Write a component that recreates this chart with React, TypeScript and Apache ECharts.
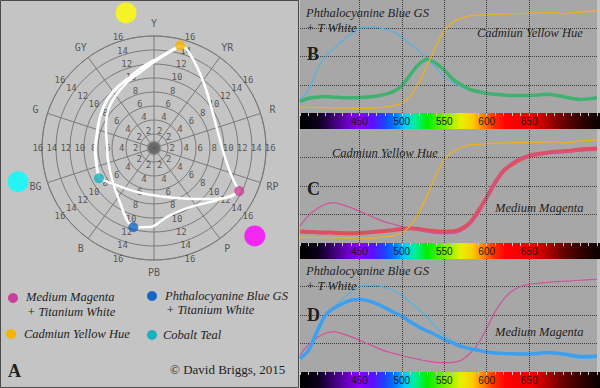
import { useEffect, useRef } from "react";
import * as echarts from "echarts";

// ---------- Spectral panels (B, C, D) ----------
const WAVELENGTHS = [380, 390, 400, 410, 420, 430, 440, 450, 460, 470, 480, 490, 500, 510, 520, 530, 540, 550,
  560, 570, 580, 590, 600, 610, 620, 630, 640, 650, 660, 670, 680, 690, 700, 710, 720, 730];
const PHTHALO_BLUE_TW = [12, 20, 38, 50, 57, 64, 70, 75, 76, 76, 74, 72, 67, 61, 55, 48, 40, 32, 27, 23, 20, 18,
  17, 16, 16, 16, 16, 16, 16, 17, 16, 15, 13, 12, 12, 13];
const CADMIUM_YELLOW = [5, 5, 4.8, 4.7, 4.6, 4.5, 4.3, 4.2, 4.2, 4.5, 5.5, 6.5, 9, 15, 27, 42, 59, 73, 80, 84, 86,
  86.5, 87, 87.5, 87.7, 88, 88, 88.2, 88.5, 88.7, 89, 87.8, 88.5, 89.5, 90, 90.6];
const MEDIUM_MAGENTA = [15, 24, 30, 34, 35.4, 33.5, 31, 28, 24.5, 21.5, 18.5, 16.5, 14.5, 12.5, 11, 9.5, 8.4, 8.2,
  8.4, 10.3, 16, 25, 38, 53, 64, 71, 75, 77, 77.8, 78.5, 79.2, 79.6, 80, 80.5, 81, 81.3];
const MIX_BLUE_YELLOW = [10, 13, 14, 14.5, 14, 13.6, 13.6, 13.8, 14.2, 15, 16.5, 19, 24, 34, 43, 47.5, 44, 38, 30,
  25, 21, 19, 17.5, 16.5, 16, 15.5, 15.5, 15.5, 16, 16.5, 16, 14.5, 13, 12, 12.5, 13.5];
const MIX_MAGENTA_YELLOW = [10, 9.7, 9.4, 9.2, 9, 8.7, 8.5, 8.8, 9.2, 9.8, 10.6, 11.3, 12.2, 12.9, 12.2, 11, 10.4,
  10, 10.2, 12.5, 17.5, 28, 40, 53, 63.5, 69, 73.5, 76.5, 78, 79, 80, 80.5, 81, 82, 82.5, 83];
const MIX_MAGENTA_BLUE = [12, 19, 35, 50, 56, 60, 63, 63.7, 62.5, 60, 56.5, 52.5, 49, 44, 39.5, 36, 32.5, 28.5,
  25.5, 22.5, 20.5, 19, 17.5, 16.7, 16.2, 16, 15.8, 15.8, 16.3, 17, 16.7, 15.8, 14.7, 13.5, 13.5, 14.3];
const SPECTRUM_LABELS = [450, 500, 550, 600, 650];
const SPECTRUM_NM = [380, 400, 415, 435, 450, 465, 480, 492, 503, 515, 528, 548, 568, 582, 594, 606, 620, 650,
  668, 690, 712, 730];
const SPECTRUM_COLORS = ["#000000", "#0a0014", "#300060", "#6a00c0", "#8a00ff", "#5a10ff", "#1848ff", "#0080ff",
  "#00d0ff", "#00f090", "#00ee00", "#70f000", "#e8f000", "#ffc800", "#ff8000", "#ff3000", "#ff0000", "#f00000",
  "#b00000", "#600000", "#2a0000", "#0a0000"];

// ---------- Polar hue/chroma diagram (A) : [chroma, hue angle clockwise from Y] ----------
const HUE_NAMES = ["Y", "YR", "R", "RP", "P", "PB", "B", "BG", "G", "GY"];
const HUE_ANGLES = [0, 36, 72, 108, 144, 180, 216, 252, 288, 324];
const RING_VALUES = [2, 4, 6, 8, 10, 12, 14, 16];
const RING_LABEL_ANGLES = [18, 54, 90, 126, 162, 198, 234, 270, 306, 342];

const PIGMENT_YELLOW = [15.1, 14.3];
const PIGMENT_MAGENTA = [13.65, 116.8];
const PIGMENT_BLUE = [11.7, 194.6];
const PIGMENT_TEAL = [8.97, 241.2];
const REF_YELLOW = [19.7, 348.3];
const REF_CYAN = [20.0, 256.1];
const REF_MAGENTA = [19.1, 131.1];

const CURVE_YELLOW_MAGENTA = [[15.1, 14.3], [14.8, 18.6], [13.1, 28.0], [11.4, 39.9], [9.9, 56.8], [9.4, 76.8],
  [10.2, 97.2], [11.9, 110.4], [13.65, 116.8]];
const CURVE_YELLOW_TEAL = [[15.1, 14.3], [13.0, 3.8], [11.7, 352.3], [10.7, 341.3], [10.1, 328.3], [9.6, 315.6],
  [8.9, 299.9], [8.4, 284.7], [8.4, 268.1], [8.6, 251.6], [8.97, 241.2]];
const CURVE_YELLOW_BLUE = [[15.1, 14.3], [12.6, 2.0], [11.0, 349.6], [10.1, 337.4], [9.2, 322.6], [8.5, 309.6],
  [7.5, 293.6], [6.7, 271.2], [6.8, 255.4], [7.7, 229.5], [9.2, 211.7], [11.0, 200.6], [11.7, 194.6]];
const CURVE_TEAL_MAGENTA = [[8.97, 241.2], [8.0, 231.5], [6.7, 197.3], [7.6, 159.2], [10.5, 133.9],
  [12.9, 122.8], [13.65, 116.8]];
const CURVE_BLUE_MAGENTA = [[11.7, 194.6], [11.3, 182.9], [10.0, 169.3], [9.8, 151.2], [11.7, 129.5],
  [13.1, 120.8], [13.65, 116.8]];

const PLOT_BG = "#a7a7a7";
const PANEL_BG = "#c4c4c4";
const SERIF_I = 'italic 12.5px "Liberation Serif", serif';
const SERIF_B = 'bold 18px "Liberation Serif", serif';
const POLAR_CENTER = [154, 148];

function specSeries(grid: number, values: number[], color: string, width: number, extra: any = {}) {
  return {
    type: "line",
    xAxisIndex: grid,
    yAxisIndex: grid,
    data: WAVELENGTHS.map((w, i) => [w, values[i]]),
    smooth: 0.3,
    symbol: "none",
    silent: true,
    lineStyle: { color, width },
    ...extra,
  };
}

function gridMarks() {
  return {
    silent: true,
    symbol: ["none", "none"],
    label: { show: false },
    lineStyle: { color: "#3a3a3a", type: "dotted", width: 1 },
    data: SPECTRUM_LABELS.map((v) => ({ xAxis: v })),
  };
}

function polarCurve(data: number[][], width: number) {
  return {
    type: "line",
    coordinateSystem: "polar",
    polarIndex: 1,
    data,
    smooth: 0.35,
    symbol: "none",
    silent: true,
    lineStyle: { color: "#ffffff", width },
    z: 4,
  };
}

function txt(text: string, x: number, y: number, font: string, fill = "#1e1e1e") {
  return { type: "text", x, y, z: 20, silent: true, style: { text, font, fill, verticalAlign: "middle", align: "left" } };
}

export default function App() {
  const ref = useRef<HTMLDivElement>(null);

  useEffect(() => {
    const chart = echarts.init(ref.current!, undefined, { renderer: "svg" });
    const grids = [
      { top: 0, height: 113 },
      { top: 129, height: 114 },
      { top: 258, height: 114 },
    ];
    const stops = SPECTRUM_NM.map((nm, i) => ({ offset: (nm - 380) / 350, color: SPECTRUM_COLORS[i] }));
    const hidden = { show: false };

    const option: any = {
      animation: false,
      backgroundColor: PANEL_BG,
      grid: grids.map((g) => ({
        left: 300, width: 300, top: g.top, height: g.height,
        show: true, backgroundColor: PLOT_BG, borderWidth: 0,
      })),
      xAxis: grids.map((_, i) => ({
        type: "value", gridIndex: i, min: 380, max: 730, interval: 10, z: 10,
        axisLine: { show: false },
        axisTick: { show: true, length: 3, lineStyle: { color: "#c8c8c8", width: 1 } },
        axisLabel: {
          formatter: (v: number) => (SPECTRUM_LABELS.includes(v) ? String(v) : ""),
          margin: 3, color: "#1a1a1a", fontSize: 10, fontFamily: '"Liberation Sans", sans-serif',
        },
        splitLine: { show: false },
      })),
      yAxis: grids.map((_, i) => ({
        type: "value", gridIndex: i, min: 0, max: 100, interval: 25,
        axisLine: { show: false }, axisTick: { show: false }, axisLabel: { show: false },
        splitLine: { show: true, showMinLine: false, showMaxLine: false, lineStyle: { color: "#3a3a3a", type: "dotted", width: 1 } },
      })),
      // polar 0 draws the ring/spoke grid (chroma 0-16); polar 1 (same scale, larger extent) holds the marks
      polar: [
        { center: POLAR_CENTER, radius: 112 },
        { center: POLAR_CENTER, radius: 147 },
      ],
      radiusAxis: [
        {
          polarIndex: 0, type: "value", min: 0, max: 16, interval: 2,
          axisLine: hidden, axisTick: hidden, axisLabel: hidden,
          splitLine: { show: true, lineStyle: { color: "#7a7a7a", width: 1 } },
        },
        {
          polarIndex: 1, type: "value", min: 0, max: 21, interval: 1,
          axisLine: hidden, axisTick: hidden, axisLabel: hidden, splitLine: hidden,
        },
      ],
      angleAxis: [
        {
          polarIndex: 0, type: "value", min: 0, max: 360, interval: 36, startAngle: 90, clockwise: true,
          axisLine: { show: true, lineStyle: { color: "#7a7a7a", width: 1 } },
          axisTick: hidden, axisLabel: hidden,
          splitLine: { show: true, lineStyle: { color: "#7a7a7a", width: 1 } },
        },
        {
          polarIndex: 1, type: "value", min: 0, max: 360, interval: 36, startAngle: 90, clockwise: true,
          axisLine: hidden, axisTick: hidden, axisLabel: hidden, splitLine: hidden,
        },
      ],
      series: [
        // Panel B
        specSeries(0, PHTHALO_BLUE_TW, "#52b2e4", 1.2, { markLine: gridMarks() }),
        specSeries(0, MIX_BLUE_YELLOW, "#3fb170", 3.5),
        specSeries(0, CADMIUM_YELLOW, "#f0b01e", 1.3),
        // Panel C
        specSeries(1, MIX_MAGENTA_YELLOW, "#e0505c", 4, { markLine: gridMarks() }),
        specSeries(1, MEDIUM_MAGENTA, "#d0529c", 1.2),
        specSeries(1, CADMIUM_YELLOW, "#f0b01e", 1.3),
        // Panel D
        specSeries(2, PHTHALO_BLUE_TW, "#52b2e4", 1.2, { markLine: gridMarks() }),
        specSeries(2, MEDIUM_MAGENTA, "#d0529c", 1.2),
        specSeries(2, MIX_MAGENTA_BLUE, "#3c9ff0", 3.5),
        // Polar: ring numbers
        {
          type: "scatter", coordinateSystem: "polar", polarIndex: 1, symbolSize: 0, silent: true, z: 3,
          data: RING_LABEL_ANGLES.flatMap((a) => RING_VALUES.map((r) => ({ name: String(r), value: [r + 0.6, a] }))),
          label: { show: true, position: "inside", formatter: "{b}", color: "#383838", fontSize: 9, fontFamily: '"DejaVu Sans Mono", monospace' },
        },
        // Polar: hue names
        {
          type: "scatter", coordinateSystem: "polar", polarIndex: 1, symbolSize: 0, silent: true, z: 3,
          data: HUE_NAMES.map((n, i) => ({ name: n, value: [17.8, HUE_ANGLES[i]] })),
          label: { show: true, position: "inside", formatter: "{b}", color: "#383838", fontSize: 10, fontFamily: '"DejaVu Sans Mono", monospace' },
        },
        polarCurve(CURVE_YELLOW_MAGENTA, 2.5),
        polarCurve(CURVE_YELLOW_TEAL, 3),
        polarCurve(CURVE_YELLOW_BLUE, 2.5),
        polarCurve(CURVE_TEAL_MAGENTA, 2.5),
        polarCurve(CURVE_BLUE_MAGENTA, 2.5),
        // centre
        {
          type: "scatter", coordinateSystem: "polar", polarIndex: 1, silent: true, z: 5, symbolSize: 13,
          data: [[0, 0]], itemStyle: { color: "#5a5a5a", borderColor: "#8a8a8a", borderWidth: 1.5 },
        },
        // pigments
        {
          type: "scatter", coordinateSystem: "polar", polarIndex: 1, silent: true, z: 6, symbolSize: 10,
          data: [
            { value: PIGMENT_YELLOW, itemStyle: { color: "#f5b400" } },
            { value: PIGMENT_MAGENTA, itemStyle: { color: "#c8409a" } },
            { value: PIGMENT_BLUE, itemStyle: { color: "#1566c4" } },
            { value: PIGMENT_TEAL, itemStyle: { color: "#17b2c0" } },
          ],
        },
        // reference hues
        {
          type: "scatter", coordinateSystem: "polar", polarIndex: 1, silent: true, z: 6, symbolSize: 21,
          data: [
            { value: REF_YELLOW, itemStyle: { color: "#ffff00" } },
            { value: REF_CYAN, itemStyle: { color: "#00ffff" } },
            { value: REF_MAGENTA, itemStyle: { color: "#ff00ff" } },
          ],
        },
      ],
      graphic: [
        { type: "rect", z: 0, silent: true, shape: { x: 0.5, y: 0.5, width: 298, height: 387 }, style: { fill: "none", stroke: "#4a4a4a", lineWidth: 1 } },
        ...grids.map((g) => ({
          type: "rect", z: 1, silent: true,
          shape: { x: 300, y: g.top + g.height, width: 300, height: 16 },
          style: { fill: new echarts.graphic.LinearGradient(0, 0, 1, 0, stops) },
        })),
        // legend
        { type: "circle", z: 20, silent: true, shape: { cx: 13, cy: 298, r: 5 }, style: { fill: "#c8409a" } },
        { type: "circle", z: 20, silent: true, shape: { cx: 152, cy: 296, r: 5 }, style: { fill: "#1566c4" } },
        { type: "circle", z: 20, silent: true, shape: { cx: 11, cy: 334, r: 5 }, style: { fill: "#f5b400" } },
        { type: "circle", z: 20, silent: true, shape: { cx: 152, cy: 335, r: 5 }, style: { fill: "#17b2c0" } },
        txt("Medium Magenta", 26, 297, SERIF_I),
        txt("+ Titanium White", 27, 312, SERIF_I),
        txt("Phthalocyanine Blue GS", 165, 296, SERIF_I),
        txt("+ Titanium White", 166, 310, SERIF_I),
        txt("Cadmiun Yellow Hue", 24, 334, SERIF_I),
        txt("Cobalt Teal", 163, 335, SERIF_I),
        txt("A", 8, 371, SERIF_B),
        txt("© David Briggs, 2015", 170, 369, '13px "Liberation Serif", serif'),
        // panel texts
        txt("Phthalocyanine Blue GS", 306, 13, SERIF_I),
        txt("+ T White", 306, 28, SERIF_I),
        txt("B", 307, 54, SERIF_B),
        txt("Cadmiun Yellow Hue", 477, 33, SERIF_I),
        txt("Cadmiun Yellow Hue", 332, 153, SERIF_I),
        txt("C", 307, 189, SERIF_B),
        txt("Medium Magenta", 495, 208, SERIF_I),
        txt("Phthalocyanine Blue GS", 306, 271, SERIF_I),
        txt("+ T White", 306, 286, SERIF_I),
        txt("D", 307, 315, SERIF_B),
        txt("Medium Magenta", 495, 332, SERIF_I),
      ],
    };
    chart.setOption(option);
    return () => chart.dispose();
  }, []);

  return <div ref={ref} style={{ position: "absolute", left: 0, top: 0, width: 600, height: 388 }} />;
}
